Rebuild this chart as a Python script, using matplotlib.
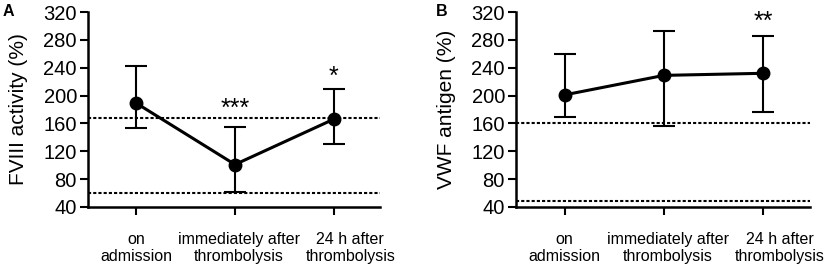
import matplotlib
matplotlib.use("Agg")
import matplotlib.pyplot as plt
from matplotlib.transforms import offset_copy

plt.rcParams['font.family'] = ['Liberation Sans', 'DejaVu Sans']

categories = ["on\nadmission", "immediately after\nthrombolysis", "24 h after\nthrombolysis"]

fviii_mean = [189, 101, 166]
fviii_upper = [242, 155, 209]
fviii_lower = [153, 61, 130]
fviii_ref = [168, 60]
fviii_stars = ["", "***", "*"]
fviii_star_y = [0, 189, 235]

vwf_mean = [201, 229, 232]
vwf_upper = [260, 293, 286]
vwf_lower = [169, 157, 176]
vwf_ref = [160, 48]
vwf_stars = ["", "", "**"]
vwf_star_y = [0, 0, 314]

yticks = [40, 80, 120, 160, 200, 240, 280, 320]

W, H = 827, 266
fig = plt.figure(figsize=(W / 100, H / 100), dpi=100)

label_shift_pt = [0, 3, 12]


def panel(left_px, right_px, mean, upper, lower, ref, stars, star_y, ylabel, letter, letter_x):
    ax = fig.add_axes([left_px / W, (H - 207) / H, (right_px - left_px) / W, (207 - 12) / H])
    x = list(range(len(mean)))
    yerr = [[m - l for m, l in zip(mean, lower)], [u - m for m, u in zip(mean, upper)]]
    for r in ref:
        ax.axhline(r, color='black', lw=1.5, dashes=(1.5, 1.0), zorder=1)
    ax.errorbar(x, mean, yerr=yerr, color='black', lw=2.2, marker='o', ms=9,
                elinewidth=1.5, capsize=8, capthick=1.5, zorder=3)
    star_tr = offset_copy(ax.transData, fig=fig, x=0, y=-4.0, units='points')
    for xi, s, sy in zip(x, stars, star_y):
        if s:
            ax.text(xi, sy, s, ha='center', va='center', fontsize=18, transform=star_tr)
    ax.set_xlim(-0.49, 2.47)
    ax.set_ylim(40, 320)
    ax.set_yticks(yticks)
    ax.set_xticks(x)
    ax.set_xticklabels([])
    for xi, cat, dx in zip(x, categories, label_shift_pt):
        ax.annotate(cat, xy=(xi, 0), xycoords=('data', 'axes fraction'),
                    xytext=(dx, -18), textcoords='offset points',
                    ha='center', va='top', fontsize=11.5, linespacing=1.15,
                    multialignment='center', annotation_clip=False)
    ax.tick_params(axis='y', labelsize=14.5, width=1.5, length=6, pad=2)
    ax.tick_params(axis='x', width=1.5, length=6)
    for s in ['top', 'right']:
        ax.spines[s].set_visible(False)
    for s in ['left', 'bottom']:
        ax.spines[s].set_linewidth(1.8)
    ax.set_ylabel(ylabel, fontsize=15, labelpad=11)
    fig.text(letter_x / W, (H - 12) / H, letter, fontsize=11.5, fontweight='bold', ha='left', va='center')
    return ax


panel(88, 380, fviii_mean, fviii_upper, fviii_lower, fviii_ref, fviii_stars, fviii_star_y,
      "FVIII activity (%)", "A", 3)
panel(516, 810, vwf_mean, vwf_upper, vwf_lower, vwf_ref, vwf_stars, vwf_star_y,
      "VWF antigen (%)", "B", 436)

fig.savefig("out.png", dpi=100)
